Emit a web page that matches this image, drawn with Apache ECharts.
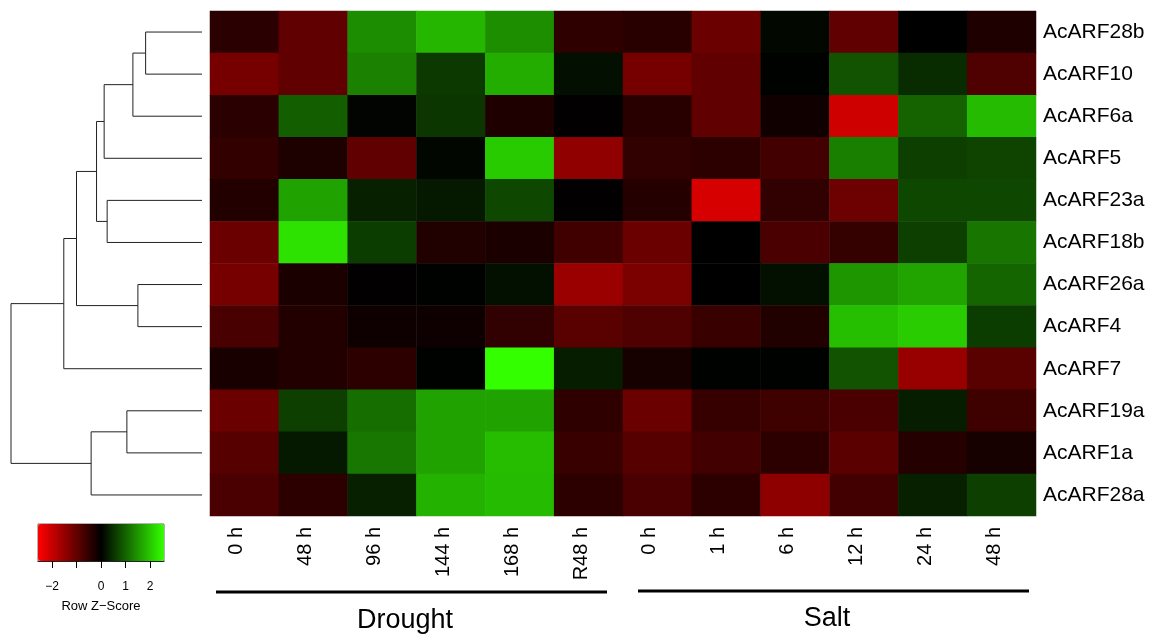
<!DOCTYPE html>
<html>
<head>
<meta charset="utf-8">
<title>AcARF heatmap</title>
<script src="https://cdn.jsdelivr.net/npm/echarts@6/dist/echarts.min.js"></script>
<style>
  html, body { margin: 0; padding: 0; background: #fff; }
  #main { width: 1150px; height: 636px; }
</style>
</head>
<body>
<div id="main"></div>
<script>
// column labels (6 drought + 6 salt time points)
const colLabels = ['0 h', '48 h', '96 h', '144 h', '168 h', 'R48 h', '0 h', '1 h', '6 h', '12 h', '24 h', '48 h'];
const groupNames = ['Drought', 'Salt'];

// rows in dendrogram order, top to bottom
const rowNames = ['AcARF28b', 'AcARF10', 'AcARF6a', 'AcARF5', 'AcARF23a', 'AcARF18b',
  'AcARF26a', 'AcARF4', 'AcARF7', 'AcARF19a', 'AcARF1a', 'AcARF28a'];

// row z-scores
const AcARF28b = [-0.43, -0.98, 1.41, 1.84, 1.43, -0.47, -0.41, -1.08, 0.08, -0.98, 0.0, -0.31];
const AcARF10 = [-1.19, -0.98, 1.31, 0.57, 1.74, 0.15, -1.19, -0.98, 0.02, 0.84, 0.43, -0.80];
const AcARF6a = [-0.43, 0.96, 0.04, 0.54, -0.31, -0.02, -0.41, -0.98, -0.16, -2.08, 1.0, 1.88];
const AcARF5 = [-0.51, -0.29, -0.98, 0.07, 2.04, -1.46, -0.49, -0.45, -0.67, 1.28, 0.63, 0.69];
const AcARF23a = [-0.35, 1.63, 0.33, 0.24, 0.73, -0.02, -0.37, -2.16, -0.49, -1.10, 0.73, 0.73];
const AcARF18b = [-1.07, 2.28, 0.61, -0.33, -0.27, -0.65, -1.08, 0.0, -0.75, -0.53, 0.63, 1.18];
const AcARF26a = [-1.19, -0.27, -0.02, 0.02, 0.16, -1.56, -1.24, 0.0, 0.16, 1.51, 1.65, 1.02];
const AcARF4 = [-0.73, -0.35, -0.14, -0.14, -0.49, -0.90, -0.80, -0.57, -0.33, 1.92, 2.06, 0.61];
const AcARF7 = [-0.24, -0.35, -0.45, 0.02, 2.57, 0.29, -0.22, 0.02, 0.02, 0.84, -1.53, -0.90];
const AcARF19a = [-1.08, 0.63, 1.10, 1.63, 1.63, -0.47, -1.08, -0.55, -0.63, -0.75, 0.29, -0.63];
const AcARF1a = [-0.88, 0.24, 1.20, 1.63, 1.90, -0.57, -0.88, -0.67, -0.45, -0.92, -0.37, -0.22];
const AcARF28a = [-0.75, -0.45, 0.33, 1.79, 1.88, -0.45, -0.75, -0.45, -1.43, -0.67, 0.33, 0.65];
const zRows = [AcARF28b, AcARF10, AcARF6a, AcARF5, AcARF23a, AcARF18b,
  AcARF26a, AcARF4, AcARF7, AcARF19a, AcARF1a, AcARF28a];

// row clustering: [left, right, height]; 'mN' = result of merge N
const dendroMerges = [
  ['AcARF28b', 'AcARF10', 5.63],
  ['m0', 'AcARF6a', 6.9],
  ['m1', 'AcARF5', 9.77],
  ['AcARF23a', 'AcARF18b', 9.47],
  ['m2', 'm3', 10.53],
  ['AcARF26a', 'AcARF4', 6.4],
  ['m4', 'm5', 12.53],
  ['m6', 'AcARF7', 13.8],
  ['AcARF19a', 'AcARF1a', 7.5],
  ['m8', 'AcARF28a', 11.07],
  ['m7', 'm9', 19.07]
];

const keyTicks = [-2, -1, 0, 1, 2];
const keyLabels = [-2, 0, 1, 2];
const zLimit = 2.57;

// heatmap cells
let cells = [];
for (let r = 0; r < zRows.length; r++) {
  for (let c = 0; c < colLabels.length; c++) {
    cells.push([c, r, zRows[r][c]]);
  }
}

// dendrogram polylines
let nodePos = {};
rowNames.forEach(function (n, i) { nodePos[n] = { y: i, h: 0 }; });
let dendroLines = [];
dendroMerges.forEach(function (m, i) {
  let a = nodePos[m[0]], b = nodePos[m[1]], h = m[2];
  dendroLines.push({ coords: [[a.h, a.y], [h, a.y], [h, b.y], [b.h, b.y]] });
  nodePos['m' + i] = { y: (a.y + b.y) / 2, h: h };
});

const font = 'Liberation Sans, Arial, Helvetica, sans-serif';
const minus = function (v) { return String(v).replace('-', '\u2212'); };

const chart = echarts.init(document.getElementById('main'), null, { renderer: 'canvas' });

const option = {
  backgroundColor: '#fff',
  animation: false,
  textStyle: { fontFamily: font },
  grid: [
    { left: 210, top: 11, width: 826, height: 505 },
    { left: 11, top: 11, width: 191, height: 505 },
    { left: 38, top: 524, width: 126, height: 37, show: true, borderColor: '#666', borderWidth: 1, backgroundColor: 'transparent' }
  ],
  xAxis: [
    {
      gridIndex: 0, type: 'category', data: colLabels, position: 'bottom',
      axisLine: { show: false }, axisTick: { show: false }, splitLine: { show: false },
      axisLabel: { interval: 0, rotate: 90, fontSize: 20, color: '#000', margin: 11, fontFamily: font,
        verticalAlign: 'bottom', lineHeight: 15 }
    },
    { gridIndex: 1, type: 'value', inverse: true, min: 0, max: 19.07, show: false },
    {
      gridIndex: 2, type: 'value', min: -zLimit, max: zLimit, position: 'bottom',
      splitLine: { show: false },
      axisLine: { show: true, lineStyle: { color: '#222', width: 1 } },
      axisTick: { show: true, length: 7, lineStyle: { color: '#000' }, customValues: keyTicks },
      axisLabel: { fontSize: 12, color: '#000', margin: 20, customValues: keyLabels, formatter: minus },
      name: 'Row Z\u2212Score', nameLocation: 'middle', nameGap: 39,
      nameTextStyle: { fontSize: 13, color: '#000' }
    }
  ],
  yAxis: [
    {
      gridIndex: 0, type: 'category', data: rowNames, inverse: true, position: 'right',
      axisLine: { show: false }, axisTick: { show: false }, splitLine: { show: false },
      axisLabel: { fontSize: 21, color: '#000', margin: 7, fontFamily: font }
    },
    { gridIndex: 1, type: 'value', inverse: true, min: -0.5, max: 11.5, show: false },
    { gridIndex: 2, type: 'value', show: false }
  ],
  visualMap: {
    type: 'continuous',
    seriesIndex: 0,
    min: -zLimit, max: zLimit,
    calculable: false,
    orient: 'horizontal',
    left: 38, top: 524,
    itemWidth: 37, itemHeight: 126,
    padding: 0,
    text: null,
    showLabel: false,
    hoverLink: false,
    inRange: { color: ['#ff0000', '#000000', '#33ff00'] }
  },
  series: [
    {
      type: 'heatmap',
      xAxisIndex: 0, yAxisIndex: 0,
      data: cells,
      itemStyle: { borderWidth: 0 },
      emphasis: { disabled: true }
    },
    {
      type: 'lines',
      coordinateSystem: 'cartesian2d',
      xAxisIndex: 1, yAxisIndex: 1,
      polyline: true,
      silent: true,
      data: dendroLines,
      lineStyle: { color: '#222', width: 1, opacity: 1 }
    }
  ],
  graphic: [
    { type: 'line', shape: { x1: 216, y1: 592, x2: 607, y2: 592 }, style: { stroke: '#000', lineWidth: 3 } },
    { type: 'text', x: 405, y: 621, style: { text: groupNames[0], font: '27px ' + font, fill: '#000', align: 'center', verticalAlign: 'middle' } },
    { type: 'line', shape: { x1: 638, y1: 591, x2: 1029, y2: 591 }, style: { stroke: '#000', lineWidth: 3 } },
    { type: 'text', x: 827, y: 619, style: { text: groupNames[1], font: '27px ' + font, fill: '#000', align: 'center', verticalAlign: 'middle' } }
  ]
};

chart.setOption(option);
</script>
</body>
</html>
